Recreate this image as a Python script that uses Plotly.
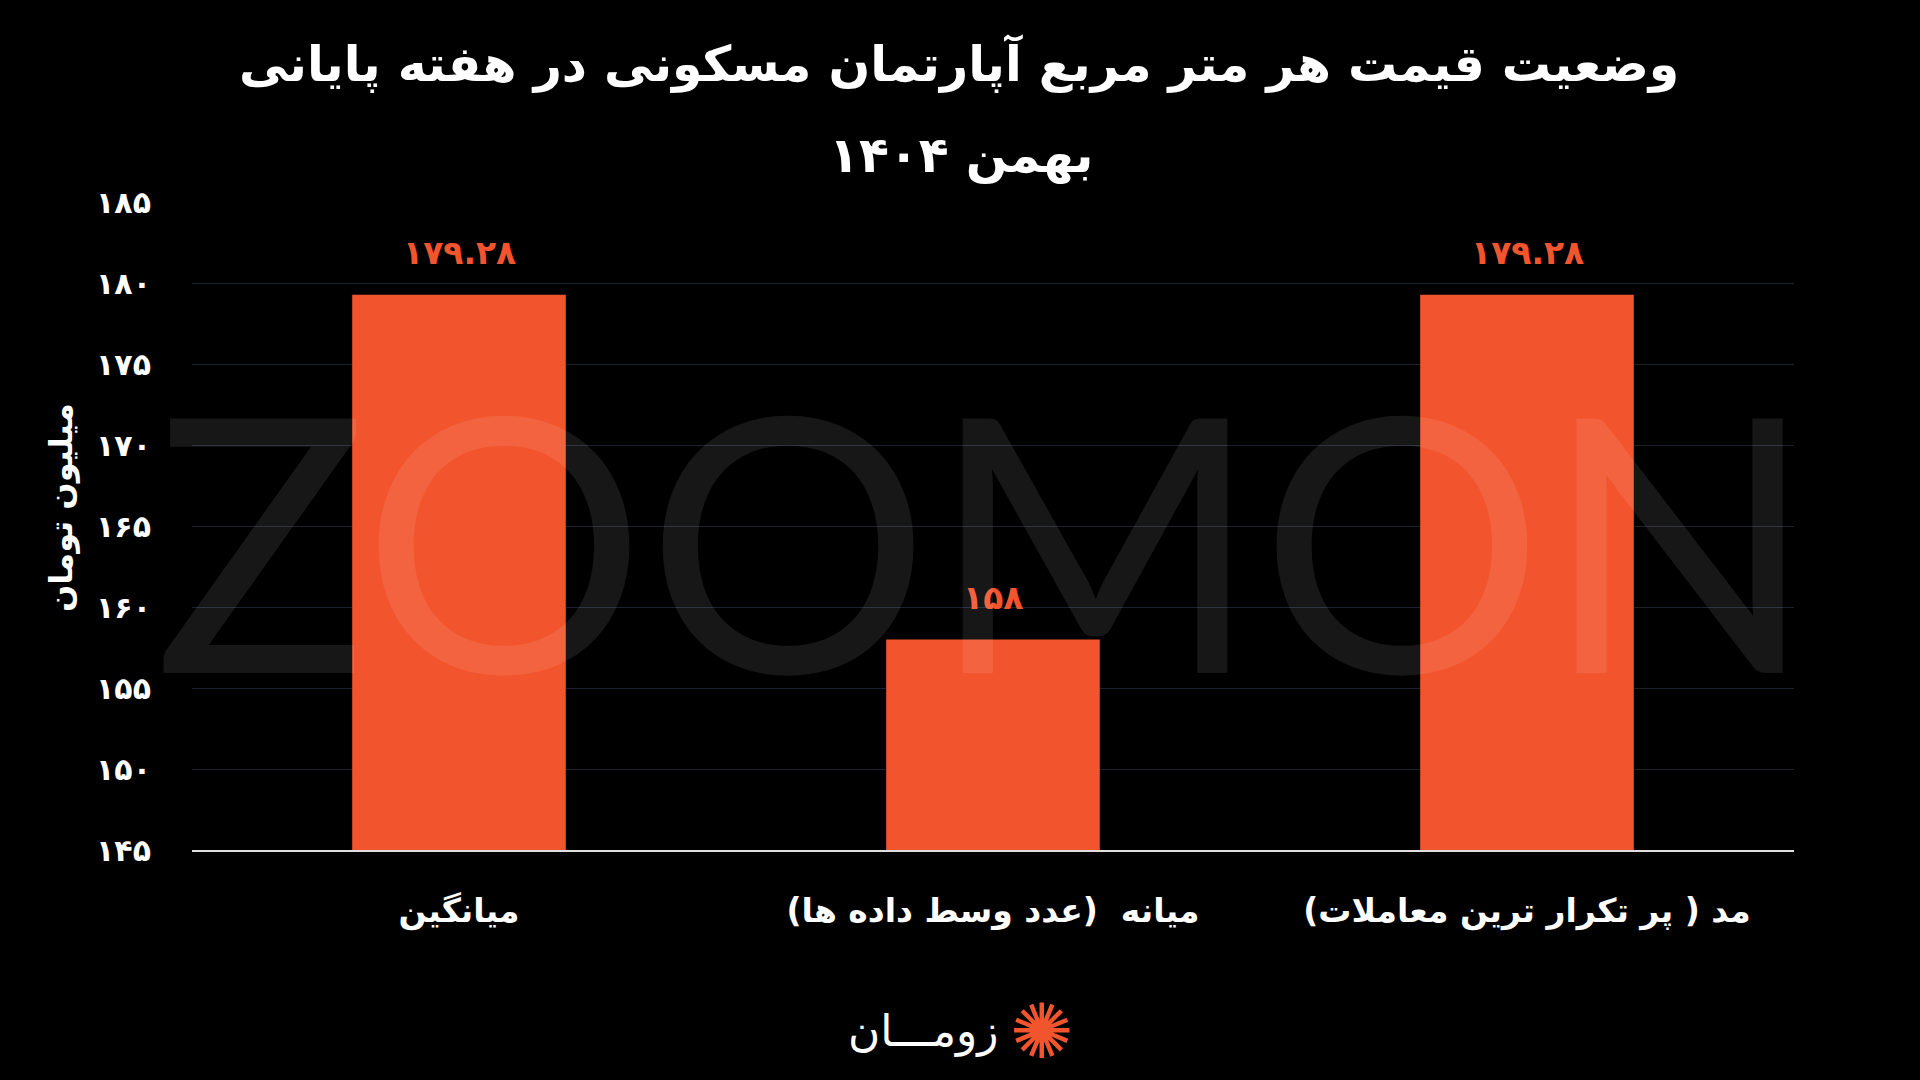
import plotly.graph_objects as go

categories = ["میانگین", "میانه  (عدد وسط داده ها)", "مد ( پر تکرار ترین معاملات)"]
values = [179.28, 158, 179.28]
value_labels = ["۱۷۹.۲۸", "۱۵۸", "۱۷۹.۲۸"]
y_ticks = [145, 150, 155, 160, 165, 170, 175, 180, 185]

title_line1 = "وضعیت قیمت هر متر مربع آپارتمان مسکونی در هفته پایانی"
title_line2 = "بهمن ۱۴۰۴"
y_title = "میلیون تومان"
logo_text = "زومـــان"

def fa_digits(s):
    return str(s).translate(str.maketrans("0123456789", "۰۱۲۳۴۵۶۷۸۹"))

ORANGE = "#F2542D"
FONT = "DejaVu Sans"
PW, PH = 1920 - 192 - 126, 1080 - 202 - 230

fig = go.Figure()
fig.add_trace(go.Bar(
    x=categories, y=values,
    marker=dict(color=ORANGE, line=dict(width=0)),
    width=0.4,
    hoverinfo="x+y",
))

# value labels above bars
for c, v, t in zip(categories, values, value_labels):
    fig.add_annotation(
        x=c, y=v, text=f"<b>{t}</b>", showarrow=False,
        yanchor="middle", yshift=42,
        font=dict(family=FONT, size=33, color=ORANGE),
    )

fig.update_layout(
    width=1920, height=1080,
    paper_bgcolor="#000000", plot_bgcolor="#000000",
    margin=dict(l=192, r=126, t=202, b=230),
    showlegend=False,
    xaxis=dict(
        showgrid=False, showline=True, linecolor="#e0e0e0", linewidth=1.5,
        tickfont=dict(family=FONT, size=33, color="#ffffff"),
        ticks="", ticklabelstandoff=31,
        tickvals=categories, ticktext=[f"<b>{c}</b>" for c in categories],
    ),
    yaxis=dict(
        range=[145, 185], tickvals=y_ticks,
        ticktext=[f"<b>{fa_digits(v)}</b>" for v in y_ticks],
        tickfont=dict(family=FONT, size=30, color="#ffffff"),
        showgrid=True, gridcolor="#1a2230", gridwidth=1,
        zeroline=False, showline=False, ticks="", ticklabelstandoff=40,
    ),
    font=dict(family=FONT),
)

# y-axis title
fig.add_annotation(
    text=f"<b>{y_title}</b>", xref="paper", yref="paper",
    x=(61 - 192) / PW, y=(850 - 508) / PH, textangle=-90,
    xanchor="center", yanchor="middle", showarrow=False,
    font=dict(family=FONT, size=32, color="#ffffff"),
)

# title (two lines)
fig.add_annotation(
    text=f"<b>{title_line1}</b>", xref="paper", yref="paper",
    x=(959 - 192) / PW, y=(850 - 64) / PH, xanchor="center", yanchor="middle",
    showarrow=False, font=dict(family=FONT, size=49, color="#ffffff"),
)
fig.add_annotation(
    text=f"<b>{title_line2}</b>", xref="paper", yref="paper",
    x=(961 - 192) / PW, y=(850 - 155) / PH, xanchor="center", yanchor="middle",
    showarrow=False, font=dict(family=FONT, size=49, color="#ffffff"),
)

# watermark
fig.add_annotation(
    text="ZOOMON", xref="paper", yref="paper", x=0.495, y=0.485,
    showarrow=False, font=dict(family="Lato", size=355, color="rgba(255,255,255,0.09)"),
    xanchor="center", yanchor="middle",
)
# logo
fig.add_annotation(
    text=logo_text, xref="paper", yref="paper", x=(1000 - 192) / PW, y=(850 - 1031) / PH,
    xanchor="right", yanchor="middle", showarrow=False,
    font=dict(family=FONT, size=44, color="#ffffff"),
)
fig.add_annotation(
    text="✺", xref="paper", yref="paper", x=(1008 - 192) / PW, y=(850 - 1031) / PH,
    xanchor="left", yanchor="middle", showarrow=False,
    font=dict(family=FONT, size=76, color=ORANGE),
)

fig.write_html(
    "out.html",
    config={"displayModeBar": False},
    post_script="document.body.style.margin='0';document.body.style.background='#000';",
)
